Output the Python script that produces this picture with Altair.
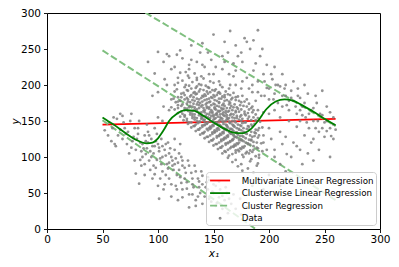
import altair as alt
import pandas as pd

# ---- data ----
series_names = ["Multivariate Linear Regression", "Clusterwise Linear Regression",
                "Cluster Regression", "Data"]
series_colors = ["#ff0000", "#008000", "#7fbf7f", "#808080"]

mlr_x = [50, 260]
mlr_y = [145, 153]

clr_x = [50, 60, 70, 80, 90, 95, 100, 105, 110, 117, 125, 133, 140, 150, 160, 168, 176,
         183, 190, 198, 206, 214, 222, 232, 242, 250, 260]
clr_y = [155, 145, 134, 124, 119, 120, 126, 137, 150, 160, 165, 164, 158, 148, 139, 134, 133,
         138, 150, 167, 177, 180, 178, 170, 161, 153, 144]

cr_x = [50, 260]
cr_upper_y = [336, 143]
cr_middle_y = [248, 40]
cr_lower_y = [151, -79]

core_pts = [
    (120,217),(127,213),(133,216),(139,212),
    (122,206),(128,210),(135,207),(141,209),(147,205),
    (118,203),(125,200),(131,204),(137,201),(143,199),(150,203),(156,200),
    (117,194),(124,197),(130,195),(135,198),(141,193),(146,196),(152,194),(158,197),(164,195),
    (115,191),(121,188),(127,192),(132,189),(137,191),(142,187),(147,190),(151,192),(156,188),(161,191),(168,189),
    (118,183),(124,186),(129,184),(134,187),(139,182),(143,185),(148,183),(153,186),(158,184),(163,187),(170,183),(176,185),
    (114,181),(120,178),(126,182),(131,179),(135,181),(140,177),(144,180),(149,182),(153,178),(157,181),(162,179),(167,182),(173,178),(180,180),
    (116,176),(122,173),(127,177),(132,174),(136,176),(140,172),(144,175),(147,177),(151,173),(155,176),(159,174),(164,177),(169,173),(175,176),(182,174),
    (112,169),(118,172),(124,168),(129,171),(133,169),(137,172),(141,168),(144,170),(148,172),(151,167),(155,170),(158,172),(162,168),(166,171),(171,169),(177,171),(184,168),
    (115,166),(121,163),(126,167),(131,164),(135,166),(139,162),(142,165),(146,167),(149,163),(152,166),(156,164),(159,167),(163,163),(167,165),(172,167),(178,163),(186,165),
    (118,161),(124,158),(129,162),(133,159),(137,161),(140,157),(144,160),(147,162),(150,158),(153,161),(156,159),(159,162),(162,158),(166,160),(170,162),(175,158),(181,161),(188,159),
    (120,156),(126,153),(131,157),(135,154),(139,156),(142,152),(145,155),(148,157),(151,153),(154,156),(157,154),(160,157),(163,153),(167,155),(171,157),(176,153),(182,156),(190,154),
    (123,151),(128,148),(133,152),(137,149),(141,151),(144,147),(147,150),(150,152),(153,148),(156,151),(159,149),(162,152),(165,148),(169,150),(173,152),(178,148),(184,151),(192,149),
    (127,146),(132,143),(136,147),(140,144),(144,146),(147,142),(150,145),(153,147),(156,143),(159,146),(162,144),(165,147),(168,143),(172,145),(176,147),(181,143),(187,146),
    (130,141),(136,138),(140,142),(144,139),(148,141),(151,137),(154,140),(157,142),(160,138),(163,141),(166,139),(169,142),(173,138),(177,140),(182,142),(188,138),(194,141),
    (134,136),(140,133),(145,137),(149,134),(153,136),(156,132),(159,135),(162,137),(165,133),(168,136),(171,134),(175,137),(179,133),(184,135),(190,137),
    (138,131),(144,128),(149,132),(153,129),(157,131),(160,127),(163,130),(166,132),(169,128),(172,131),(176,129),(180,132),(185,128),(191,130),
    (142,126),(148,123),(153,127),(157,124),(161,126),(165,122),(168,125),(171,127),(175,123),(179,126),(184,124),(190,127),
    (146,121),(152,118),(157,122),(161,119),(165,121),(169,117),(173,120),(177,122),(181,118),(186,121),(193,119),
    (150,116),(156,113),(161,117),(166,114),(170,116),(174,112),(178,115),(183,117),(189,113),
    (154,111),(160,108),(165,112),(170,109),(175,111),(180,107),(186,110),(194,108),
    (158,105),(164,102),(170,106),(176,103),(182,105),(188,101),
    (163,99),(170,96),(177,100),(184,97),(191,99),
    (167,93),(175,90),(183,94),(190,91),
    (172,87),(181,84),(189,88),
    (176,81),(186,78),
]

core_dense_pts = [
    (128,199),(134,196),(139,200),(145,197),
    (126,193),(133,190),(138,194),(144,191),(149,193),(155,190),
    (123,189),(130,186),(135,188),(140,185),(145,188),(150,186),(154,189),(160,186),(165,186),
    (121,183),(127,180),(132,183),(137,180),(141,184),(146,181),(151,184),(155,181),(160,183),(166,180),(172,184),
    (118,177),(124,180),(129,176),(133,178),(138,175),(142,179),(146,176),(151,179),(155,175),(160,178),(165,175),(170,179),(178,177),
    (121,171),(126,174),(131,170),(135,173),(139,170),(143,173),(146,169),(150,174),(153,171),(157,168),(160,171),(164,173),(168,169),(174,172),(180,170),
    (118,168),(124,165),(128,169),(133,166),(137,168),(141,164),(144,168),(148,165),(151,169),(154,164),(158,166),(161,164),(165,168),(170,164),(175,166),(182,166),
    (122,160),(127,164),(131,160),(135,163),(139,159),(142,162),(146,159),(149,161),(152,159),(155,163),(158,160),(161,161),(164,164),(168,159),(173,163),(178,160),(185,162),
    (124,156),(129,159),(133,155),(137,158),(140,154),(143,157),(147,154),(150,156),(153,159),(156,155),(159,158),(162,155),(165,158),(169,154),(174,156),(179,158),(186,155),
    (126,150),(131,154),(135,150),(139,153),(142,149),(146,153),(149,149),(152,154),(155,150),(158,153),(161,150),(164,154),(167,150),(171,154),(175,150),(181,153),(188,151),
    (130,148),(134,145),(138,149),(142,145),(145,148),(149,144),(152,148),(155,145),(158,149),(161,145),(164,149),(167,145),(170,148),(174,144),(179,148),(184,145),
    (133,143),(138,140),(142,144),(146,140),(150,143),(153,139),(156,144),(159,140),(162,143),(165,139),(168,144),(171,140),(175,143),(180,139),(185,143),(191,140),
    (137,138),(142,135),(147,139),(151,135),(155,138),(158,134),(161,139),(164,135),(167,138),(170,134),(173,139),(177,135),(182,138),(187,134),
    (141,133),(147,130),(151,134),(155,130),(159,133),(162,129),(165,134),(168,130),(171,133),(174,129),(178,134),(183,130),(188,133),
    (145,128),(150,125),(155,129),(159,125),(163,128),(167,124),(170,128),(173,124),(177,128),(182,124),(187,129),
    (149,123),(155,120),(159,124),(163,120),(167,123),(171,119),(175,124),(179,120),(184,123),(189,120),
    (153,118),(158,115),(163,119),(168,115),(172,118),(176,114),(181,119),(186,115),
    (157,113),(163,110),(168,114),(172,110),(177,113),(183,109),(190,112),
    (161,107),(167,104),(173,108),(179,105),(185,107),(191,103),
]

lower_left_pts = [
    (52,137),(56,148),(60,155),(64,130),(66,160),(70,140),(72,118),(75,150),(78,128),(80,110),
    (82,140),(84,120),(86,100),(88,130),(90,112),(92,95),(94,125),(96,105),(98,85),(100,118),
    (102,98),(104,80),(106,110),(108,90),(110,70),(112,100),(114,82),(116,60),(118,92),(120,72),
    (122,55),(124,85),(126,65),(128,48),(130,78),(132,58),(134,40),(136,70),(138,50),(140,62),
    (142,45),(145,55),(148,38),(150,50),(152,32),(155,44),(158,28),(160,40),(163,22),(166,35),
    (170,28),(175,20),(180,30),(185,15),(68,125),(74,105),(79,95),(85,88),(91,135),(97,140),
    (103,125),(109,120),(115,110),(121,100),(127,95),(133,88),(139,80),(145,72),(88,75),(95,70),
    (100,60),(112,45),(118,40),(106,62),(83,150),(76,160),(62,115),(58,122),(90,145),(96,88),
    (110,92),(117,75),(124,70),(131,62),(137,58),(144,65),(150,62),(156,55),(162,50),(168,48),
    (174,42),(140,35),(128,30),(105,55),(115,125),(120,118),(99,132),(93,108),(87,112),(81,125),
    (71,132),(61,118),(80,77),(83,63),(101,42),(122,44),(134,32),
    (97,115),(101,108),(104,115),(107,102),(111,112),(113,95),(99,96),(103,90),(109,84),(115,90),
    (119,105),(122,88),(94,100),(91,120),(86,118),(89,104),
    (73,135),(77,122),(82,132),(85,108),(89,122),(92,130),(95,115),(98,122),(101,113),(104,100),
    (107,118),(110,105),(113,88),(116,98),(119,82),(122,95),(125,78),(128,88),(131,70),(134,80),
    (137,66),(140,74),(143,58),(146,68),(149,52),(152,60),(155,66),(158,46),(161,58),(164,42),
    (76,113),(79,140),(84,96),(88,90),(93,82),(97,76),(102,70),(107,75),(112,62),(117,55),
    (121,64),(126,56),(131,48),(136,45),(146,42),(153,36),(69,148),(66,138),(59,140),(55,130),
]

upper_right_pts = [
    (105,232),(110,240),(115,225),(120,248),(125,218),(130,235),(135,210),(140,228),(145,245),(150,215),
    (155,205),(160,232),(165,200),(170,220),(172,240),(175,195),(180,210),(183,250),(185,190),(188,230),
    (190,205),(193,185),(195,215),(198,196),(200,180),(203,208),(205,188),(208,175),(210,198),(212,170),
    (215,185),(218,165),(220,192),(222,178),(225,160),(228,182),(230,170),(233,155),(235,188),(238,165),
    (240,150),(243,175),(246,160),(250,148),(252,170),(255,140),(258,155),(260,138),(222,205),(215,200),
    (205,225),(192,240),(178,265),(190,276),(170,255),(160,260),(150,270),(195,162),(200,160),(210,155),
    (228,150),(236,140),(245,135),(250,128),(255,162),(232,200),(242,185),(248,192),(226,195),(212,215),
    (198,228),(186,220),(176,232),(168,212),(158,222),(148,235),(138,245),(128,222),(185,170),(190,165),
    (205,165),(218,150),(225,142),(232,130),(240,125),(222,120),(210,135),(200,140),(195,130),(215,128),
    (228,110),(205,110),(195,120),(165,275),(140,258),(180,260),
    (185,200),(190,190),(196,205),(200,195),(204,180),(208,200),(212,185),(216,172),(220,182),(224,170),
    (228,165),(232,175),(236,160),(240,168),(244,150),(248,158),(202,215),(196,185),(188,178),(182,195),
    (176,205),(170,200),(164,215),(158,240),(152,225),(146,215),(206,200),(214,195),(226,185),(234,148),
    (242,140),(252,150),(258,145),(194,250),(186,262),(175,245),(168,230),(163,245),(230,158),(218,178),
]

scattered_pts = [
    (100,190),(105,170),(110,165),(115,200),(95,185),(108,200),(122,237),(130,255),(118,210),(100,155),
    (104,150),(112,180),(91,232),(100,246),(108,243),(117,242),(97,216),(68,157),(63,153),(128,228),
    (135,232),(142,225),(112,222),(106,208),
    (205,100),(210,90),(215,80),(200,75),(190,70),(185,60),(195,55),(220,100),(225,115),(235,105),
    (240,95),(245,110),(255,100),(258,125),(238,120),(230,90),(200,50),(210,60),(220,70),(216,104),
    (256,129),(198,110),(202,125),(212,118),(248,140),(252,136),
]

x_ticks = [0, 50, 100, 150, 200, 250, 300]
y_ticks = [0, 50, 100, 150, 200, 250, 300]

# ---- build tables ----
all_pts = core_pts + core_dense_pts + lower_left_pts + upper_right_pts + scattered_pts
pts_df = pd.DataFrame({"x": [p[0] for p in all_pts], "y": [p[1] for p in all_pts],
                       "series": "Data"})
mlr_df = pd.DataFrame({"x": mlr_x, "y": mlr_y, "series": series_names[0]})
clr_df = pd.DataFrame({"x": clr_x, "y": clr_y, "series": series_names[1]})
cr_df = pd.concat([
    pd.DataFrame({"x": cr_x, "y": cr_upper_y, "cluster": "upper"}),
    pd.DataFrame({"x": cr_x, "y": cr_middle_y, "cluster": "middle"}),
    pd.DataFrame({"x": cr_x, "y": cr_lower_y, "cluster": "lower"}),
])
cr_df["series"] = series_names[2]

xs = alt.Scale(domain=[0, 300], nice=False)
ys = alt.Scale(domain=[0, 300], nice=False)

x_enc = alt.X("x:Q", scale=xs, axis=alt.Axis(values=x_ticks, title="x₁", labelFlush=False,
                                             labelPadding=2, titlePadding=3))
y_enc = alt.Y("y:Q", scale=ys, axis=alt.Axis(values=y_ticks, title="y", labelPadding=3,
                                             titleX=-32, titleY=108, titleAngle=270,
                                             titleBaseline="middle", titleAlign="center"))

color_map_expr = ("datum.value === 'Multivariate Linear Regression' ? '#ff0000' : "
                  "datum.value === 'Clusterwise Linear Regression' ? '#008000' : "
                  "datum.value === 'Cluster Regression' ? '#7fbf7f' : '#808080'")
line_path = "M-1.82,0H1.82"
dot_path = "M-0.1,0A0.1,0.1 0 1,0 0.1,0A0.1,0.1 0 1,0 -0.1,0Z"

legend = alt.Legend(
    title=None, orient="bottom-right", offset=4, padding=2,
    fillColor="rgba(255,255,255,0.8)", strokeColor="#cccccc", cornerRadius=3,
    labelFont="DejaVu Sans", labelFontSize=8.7, labelColor="#000000", labelLimit=0,
    symbolType={"expr": f"datum.value === 'Data' ? '{dot_path}' : '{line_path}'"},
    symbolSize=121,
    symbolStrokeWidth=1.8,
    symbolStrokeColor={"expr": color_map_expr},
    symbolFillColor={"expr": "datum.value === 'Data' ? '#808080' : 'transparent'"},
    symbolDash={"expr": "datum.value === 'Cluster Regression' ? [7, 3] : []"},
    symbolOpacity=1,
    symbolOffset=5.6, labelOffset=15.2, rowPadding=0.6,
)

color_enc = alt.Color("series:N", scale=alt.Scale(domain=series_names, range=series_colors),
                      legend=legend)

points = alt.Chart(pts_df).mark_circle(size=8, opacity=0.85).encode(
    x=x_enc, y=y_enc, color=color_enc)

cr_lines = alt.Chart(cr_df).mark_line(strokeWidth=2, strokeDash=[7, 3], clip=True).encode(
    x=x_enc, y=y_enc, color=color_enc, detail="cluster:N")

mlr_line = alt.Chart(mlr_df).mark_line(strokeWidth=1.8).encode(
    x=x_enc, y=y_enc, color=color_enc)

clr_line = alt.Chart(clr_df).mark_line(strokeWidth=1.8, interpolate="monotone").encode(
    x=x_enc, y=y_enc, color=color_enc)

chart = alt.layer(mlr_line, cr_lines, points, clr_line).properties(
    width=333, height=216,
    autosize=alt.AutoSizeParams(type="none"),
    padding={"left": 39, "top": 5, "right": 11, "bottom": 30},
).configure_view(
    stroke="#000000", strokeWidth=1
).configure_axis(
    grid=False, domain=False,
    labelFont="DejaVu Sans", labelFontSize=10.5, labelColor="#000000",
    tickColor="#000000", tickWidth=0.9, tickSize=3.5,
    titleFont="DejaVu Sans", titleFontSize=10.5, titleFontWeight="normal",
    titleFontStyle="italic", titleColor="#000000",
)

chart.save("out.html", embed_options={"renderer": "svg", "actions": False})
